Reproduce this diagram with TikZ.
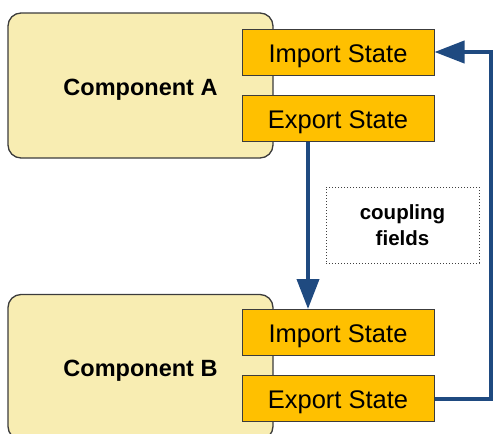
\documentclass[tikz,border=0pt]{standalone}
\usepackage{fontspec}
\setmainfont{Liberation Sans}
\usetikzlibrary{arrows.meta}
\definecolor{compfill}{RGB}{248,237,178}
\definecolor{portfill}{RGB}{255,192,0}
\definecolor{flowblue}{RGB}{31,74,128}
\definecolor{edgegray}{RGB}{60,60,60}
\tikzset{
  component/.style={draw=edgegray, line width=1.3pt, fill=compfill, rounded corners=13pt,
    minimum width=265pt, minimum height=145pt, inner sep=0pt,
    text height=19pt, text depth=0pt,
    font=\fontsize{23.5}{27}\selectfont\bfseries},
  port/.style={draw=edgegray, line width=1pt, fill=portfill,
    minimum width=192pt, minimum height=46pt, inner sep=0pt,
    text height=20pt, text depth=0pt,
    font=\fontsize{25.5}{28}\selectfont},
  flow/.style={draw=flowblue, line width=4pt,
    -{Triangle[length=30pt,width=22pt]}},
  note/.style={draw=black!75, dotted, line width=1pt, minimum width=153pt, minimum height=76pt,
    align=center, inner sep=0pt, font=\fontsize{20.5}{26}\selectfont\bfseries}
}
\begin{document}
\begin{tikzpicture}[x=1pt,y=-1pt]
\useasboundingbox (0,0) rectangle (493,434);
\clip (0,0) rectangle (493,434);
% the two components
\node[component] (compA) at (140.5,85.5) {Component A};
\node[component] (compB) at (140.5,367) {Component B};
% their states
\node[port] (impA) at (338,52) {Import State};
\node[port] (expA) at (338,118) {Export State};
\node[port] (impB) at (338,332.5) {Import State};
\node[port] (expB) at (338,398.5) {Export State};
% label of the exchanged data
\node[note] (fields) at (402.5,225) {coupling\\fields};
% connectors
\coordinate (down) at (308,0);
\coordinate (loop) at (491,0);
\draw[flow] (down |- expA.south) -- (down |- impB.north);
\draw[flow] (expB.east) -- (expB.east -| loop) -- (impA.east -| loop) -- (impA.east);
\end{tikzpicture}
\end{document}
